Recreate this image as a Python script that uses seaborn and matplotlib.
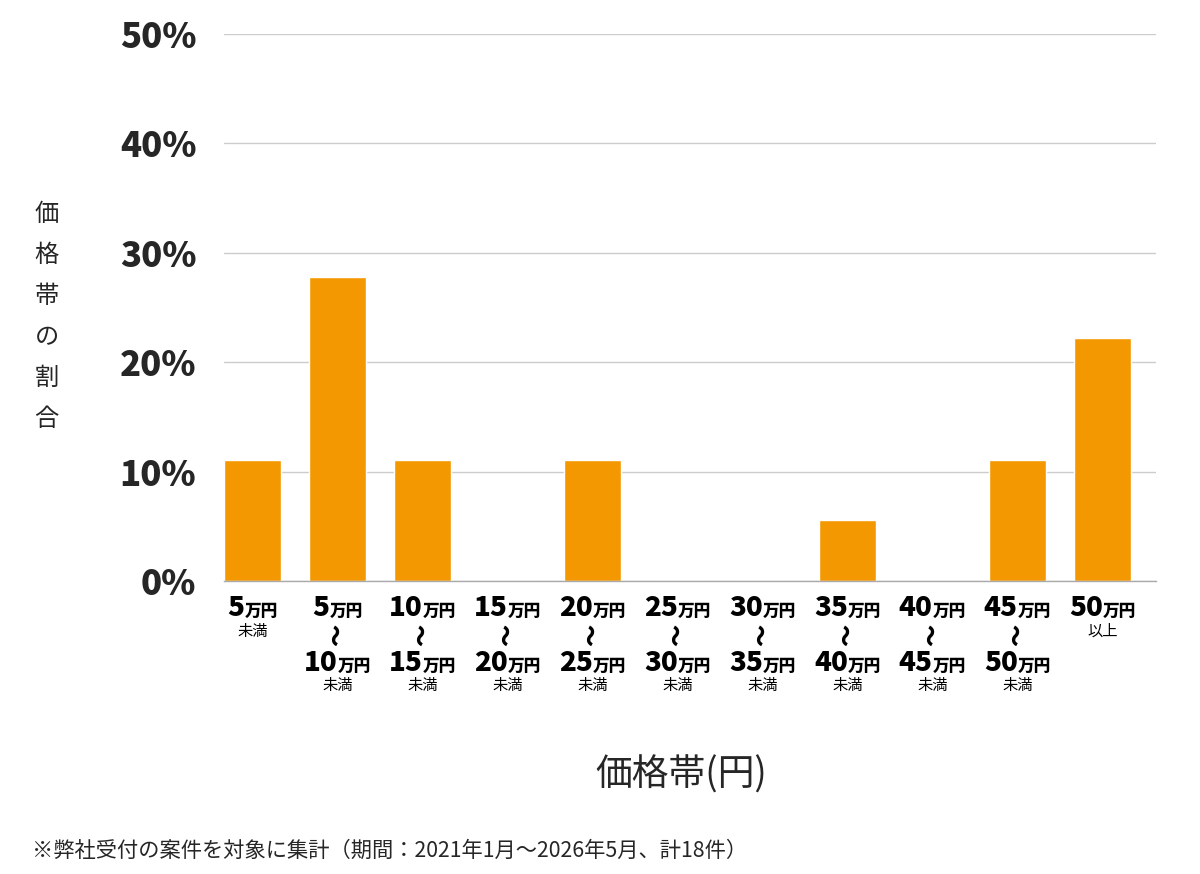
import numpy as np
import pandas as pd
import matplotlib
matplotlib.use("Agg")
import matplotlib.pyplot as plt
import seaborn as sns
from matplotlib.offsetbox import TextArea, HPacker, AnnotationBbox

# data (share of 18 cases, in %)
categories = ['5万円未満', '5-10万円', '10-15万円', '15-20万円', '20-25万円', '25-30万円',
              '30-35万円', '35-40万円', '40-45万円', '45-50万円', '50万円以上']
shares = [11.1, 27.8, 11.1, 0.0, 11.1, 0.0, 0.0, 5.6, 0.0, 11.1, 22.2]
top_nums = ['5', '5', '10', '15', '20', '25', '30', '35', '40', '45', '50']
bottom_nums = [None, '10', '15', '20', '25', '30', '35', '40', '45', '50', None]
suffixes = ['未満'] * 10 + ['以上']
yticks = [0, 10, 20, 30, 40, 50]

sns.set_style('white')
plt.rcParams['font.family'] = ['Noto Sans CJK JP', 'DejaVu Sans']

df = pd.DataFrame({'cat': categories, 'share': shares})

fig = plt.figure(figsize=(12, 8.74), dpi=100)
ax = fig.add_axes([0.1867, 0.3352, 0.9633 - 0.1867, 0.9611 - 0.3352])
sns.barplot(data=df, x='cat', y='share', color='#F39800', width=0.67,
            saturation=1, ax=ax)

ax.set_ylim(0, 50)
ax.set_xlim(-0.335, 10.63)
ax.set_yticks(yticks)
ax.set_yticklabels([f'{t}%' for t in yticks], fontsize=25, fontweight='black')
ax.tick_params(axis='y', length=0, pad=20)
ax.tick_params(axis='x', length=0)
ax.set_xticklabels([])
ax.set_xlabel('')
ax.set_ylabel('')
ax.yaxis.grid(True, color='#cccccc', linewidth=1)
ax.set_axisbelow(True)
for s in ['top', 'right', 'left']:
    ax.spines[s].set_visible(False)
ax.spines['bottom'].set_color('#aaaaaa')
ax.spines['bottom'].set_linewidth(1)

# multi-line category labels
num_p = dict(fontsize=20, fontweight='black', color='black')
unit_p = dict(fontsize=12, fontweight='black', color='black')


def amount(n, dy, i):
    box = HPacker(children=[TextArea(n, textprops=num_p),
                            TextArea('万円', textprops=unit_p)],
                  align='baseline', pad=0, sep=0)
    ab = AnnotationBbox(box, (i, 0), xycoords=('data', 'axes fraction'),
                        xybox=(0, dy), boxcoords='offset points',
                        box_alignment=(0.5, 0.5), frameon=False)
    ax.add_artist(ab)


def small(s, dy, i):
    ax.annotate(s, (i, 0), xycoords=('data', 'axes fraction'),
                xytext=(0, dy), textcoords='offset points',
                ha='center', va='center', fontsize=11, color='black')


for i in range(len(categories)):
    amount(top_nums[i], -19, i)
    if bottom_nums[i] is None:
        small(suffixes[i], -36, i)
    else:
        ax.annotate('〜', (i, 0), xycoords=('data', 'axes fraction'),
                    xytext=(0, -38.5), textcoords='offset points',
                    ha='center', va='center', rotation=90,
                    fontsize=16, fontweight='black', color='black')
        amount(bottom_nums[i], -59, i)
        small(suffixes[i], -75, i)

# axis titles and footnote
fig.text(0.039, 0.638, '\n'.join('価格帯の割合'), fontsize=17.5, ha='center',
         va='center', linespacing=1.75)
fig.text(0.568, 0.113, '価格帯(円)', fontsize=26.5, ha='center', va='center')
fig.text(0.027, 0.026, '※弊社受付の案件を対象に集計（期間：2021年1月〜2026年5月、計18件）',
         fontsize=15.3, ha='left', va='center')

fig.savefig('out.png', dpi=100)
